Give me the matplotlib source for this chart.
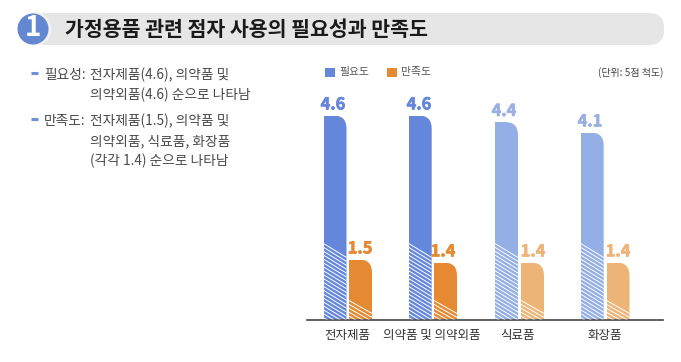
import numpy as np
import matplotlib as mpl
mpl.use('Agg')
import matplotlib.pyplot as plt
import matplotlib.patheffects as pe
from matplotlib.patches import Circle, FancyBboxPatch
from matplotlib.path import Path
from matplotlib.transforms import IdentityTransform

plt.rcParams['font.family'] = ['Noto Sans CJK KR', 'DejaVu Sans']

W, H = 681, 362

categories = ['전자제품', '의약품 및 의약외품', '식료품', '화장품']
need = [4.6, 4.6, 4.4, 4.1]
satisfaction = [1.5, 1.4, 1.4, 1.4]
series_names = ['필요도', '만족도']
unit_label = '(단위: 5점 척도)'
title = '가정용품 관련 점자 사용의 필요성과 만족도'

# the bars in the picture are not quite proportional, this follows what is drawn
scale_values = [0, 1.4, 1.5, 4.1, 4.4, 4.6, 5.5]
scale_heights = [0, 57, 60, 187, 197.5, 204, 250]

BLUE = ['#6487dc', '#6487dc', '#94aee6', '#94aee6']
ORANGE = ['#e58a33', '#e58a33', '#edb478', '#edb478']
BLUE_TXT = ['#6487dc', '#6487dc', '#9ab0e2', '#9ab0e2']
ORANGE_TXT = ['#e58a33', '#e58a33', '#edb478', '#edb478']


def px_y(y):
    return H - y


fig = plt.figure(figsize=(W / 100, H / 100), dpi=100)

# page layer in pixel coordinates (title band, bullet text)
bg = fig.add_axes([0, 0, 1, 1])
bg.set_xlim(0, W)
bg.set_ylim(H, 0)
bg.axis('off')

bg.add_patch(FancyBboxPatch((32, 13), 632, 32, boxstyle='round,pad=0,rounding_size=15',
                            fc='#e6e6e6', ec='none'))
bg.add_patch(Circle((35, 29), 16.5, fc='#f1f1f1', ec='none'))
bg.add_patch(Circle((33, 29), 15.5, fc='#6487d2', ec='none'))
bg.text(33, 28.5, '1', color='white', fontsize=20, fontweight='black', ha='center', va='center')
bg.text(65, 29.5, title, color='#1a1a1a', fontsize=14.8, fontweight='bold', va='center')

for y in (73, 119):
    bg.plot([31, 38], [y, y], color='#6f8fd6', lw=2.2, solid_capstyle='butt')

body = '#4a4a4a'
fs = 9.85
bg.text(44, 74.5, '필요성:', color=body, fontsize=fs, va='center')
bg.text(90, 74.5, '전자제품(4.6), 의약품 및', color=body, fontsize=fs, va='center')
bg.text(90, 95, '의약외품(4.6) 순으로 나타남', color=body, fontsize=fs, va='center')
bg.text(44, 120.5, '만족도:', color=body, fontsize=fs, va='center')
bg.text(90, 120.5, '전자제품(1.5), 의약품 및', color=body, fontsize=fs, va='center')
bg.text(90, 141, '의약외품, 식료품, 화장품', color=body, fontsize=fs, va='center')
bg.text(90, 161, '(각각 1.4) 순으로 나타남', color=body, fontsize=fs, va='center')

# legend and unit
bg.add_patch(plt.Rectangle((325, 68), 10, 9, fc='#6487dc', ec='none'))
bg.text(339, 72.5, series_names[0], color='#555555', fontsize=7.8, va='center')
bg.add_patch(plt.Rectangle((387, 68), 10, 9, fc='#e58a33', ec='none'))
bg.text(401, 72.5, series_names[1], color='#555555', fontsize=7.8, va='center')
bg.text(663, 72.5, unit_label, color='#444444', fontsize=7.2, va='center', ha='right')

# chart
base_y = 319.5
ax_left, ax_right = 307, 663
ax = fig.add_axes([ax_left / W, px_y(base_y) / H, (ax_right - ax_left) / W, 250 / H])
ax.patch.set_alpha(0)
ax.set_yscale('function', functions=(lambda v: np.interp(v, scale_values, scale_heights),
                                     lambda h: np.interp(h, scale_heights, scale_values)))
ax.set_ylim(0, 5.5)
ax.set_xlim(ax_left, ax_right)

need_x = [335, 420.2, 506.5, 592.2]
sat_x = [360.5, 445.5, 532.5, 618]
need_label_x = [333, 419, 504, 590]
sat_label_x = [360, 443, 533, 618]
cat_x = [347, 432, 518, 605]
bar_w = 23

need_bars = ax.bar(need_x, need, bar_w, color=BLUE, zorder=2)
sat_bars = ax.bar(sat_x, satisfaction, bar_w, color=ORANGE, zorder=2)

for x, v, c in zip(need_label_x, need, BLUE_TXT):
    ax.annotate(f'{v:.1f}', (x, v), xytext=(0, 1.5), textcoords='offset points', ha='center', va='bottom',
                color=c, fontsize=11.8, fontweight='black',
                path_effects=[pe.withStroke(linewidth=0.5, foreground=c)])
for x, v, c in zip(sat_label_x, satisfaction, ORANGE_TXT):
    ax.annotate(f'{v:.1f}', (x, v), xytext=(0, 1.5), textcoords='offset points', ha='center', va='bottom',
                color=c, fontsize=11.8, fontweight='black',
                path_effects=[pe.withStroke(linewidth=0.5, foreground=c)])

for s in ('top', 'left', 'right'):
    ax.spines[s].set_visible(False)
ax.spines['bottom'].set_color('#444444')
ax.spines['bottom'].set_linewidth(1.2)
ax.set_yticks([])
ax.minorticks_off()
ax.tick_params(axis='y', which='both', left=False, labelleft=False)
ax.set_xticks(cat_x)
ax.set_xticklabels(categories, fontsize=9, color='#333333')
ax.tick_params(axis='x', length=0, pad=7)

fig.canvas.draw()


def rounded_top(bar, r=13):
    # bar outline in pixels, top right corner rounded
    (x0, y0), (x1, y1) = bar.get_window_extent().get_points()
    verts = [(x0, y0), (x0, y1), (x1 - r, y1), (x1, y1), (x1, y1 - r), (x1, y0), (x0, y0)]
    codes = [Path.MOVETO, Path.LINETO, Path.LINETO, Path.CURVE3, Path.CURVE3, Path.LINETO, Path.CLOSEPOLY]
    return Path(verts, codes)


def hatch_bar(bar, drop_left, drop_right, clip):
    # white slanted stripes on the lower part of a bar
    (x0, y0), (x1, y1) = bar.get_window_extent().get_points()
    step = 3.9
    for i in range(40):
        ya = y0 + drop_left - i * step
        yb = y0 + drop_right - i * step
        if ya < y0 - (drop_left - drop_right):
            break
        line = ax.plot([x0, x1], [ya, yb], color='white', lw=0.7, transform=IdentityTransform(), zorder=3)[0]
        line.set_clip_path(clip, IdentityTransform())


for bar in list(need_bars) + list(sat_bars):
    bar.set_clip_path(rounded_top(bar), IdentityTransform())

for bar in need_bars:
    hatch_bar(bar, 76, 62, rounded_top(bar))
for bar in sat_bars:
    hatch_bar(bar, 19, 6, rounded_top(bar))

fig.savefig('out.png', dpi=100)
